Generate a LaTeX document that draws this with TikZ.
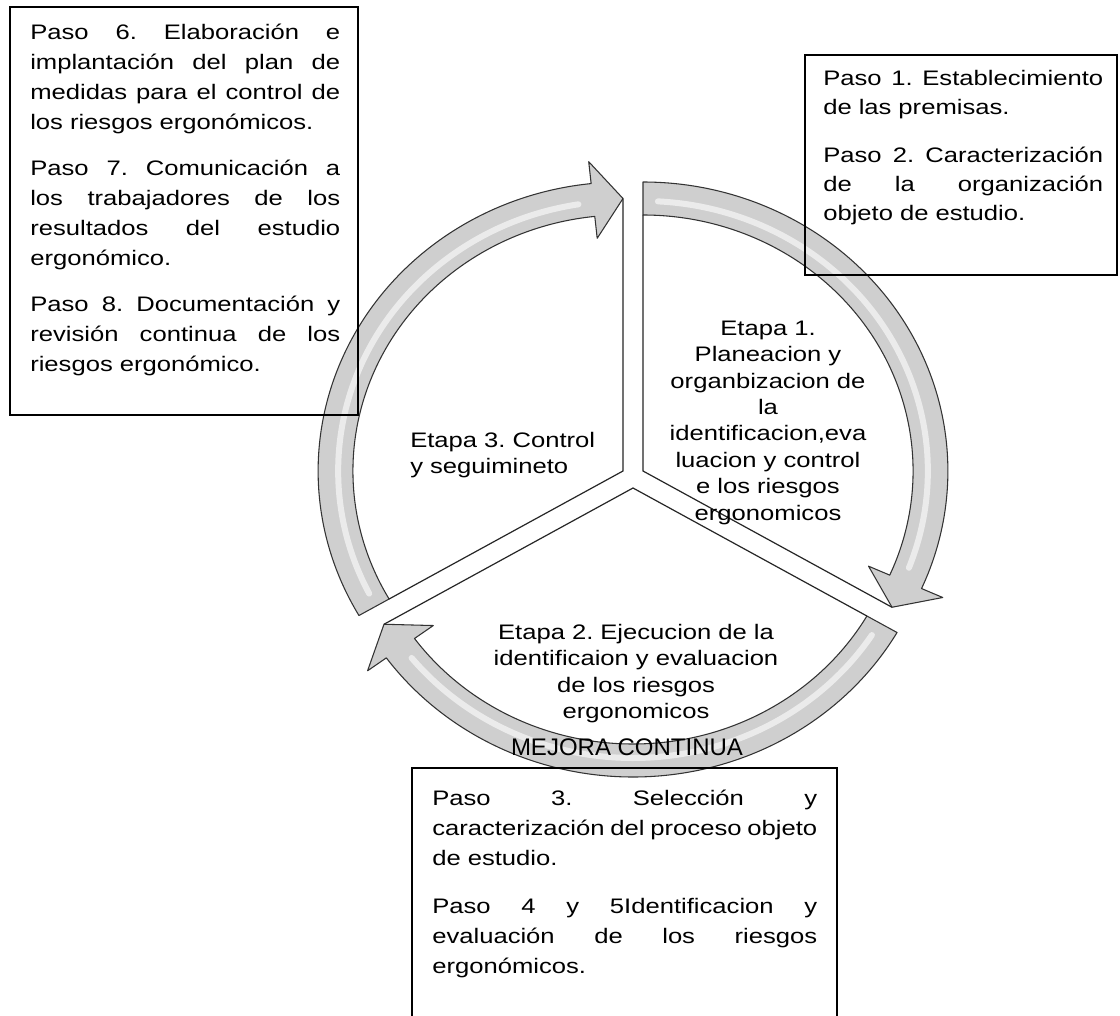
\documentclass[tikz,border=0pt]{standalone}
\usepackage{fontspec}
\setmainfont{Liberation Sans}
\newfontfamily\boxfont{Liberation Sans}[FakeStretch=1.22]
\frenchspacing
\newcommand\jline[1]{\hbox to \hsize{\spaceskip=0.2em plus 1fil\relax\xspaceskip=\spaceskip #1}}
\begin{document}
\begin{tikzpicture}[x=0.75pt,y=0.75pt,
  ringarrow/.style={draw=black!80, line width=0.8pt, fill=black!19, line join=round},
  glint/.style={draw=white, line width=4.5pt, opacity=0.6, line cap=round},
  divider/.style={draw=black!85, line width=0.9pt},
  frame/.style={draw=black, line width=1.8pt},
  boxtext/.style={anchor=north west, inner sep=0pt, align=left},
  stagetext/.style={inner sep=0pt, font=\boxfont\frenchspacing\fontsize{15.75}{19.8}\selectfont}]
\fill[white] (0,0) rectangle (1120,-1016);
\useasboundingbox (0,0) rectangle (1120,-1016);

% left arrow (Etapa 3)
\begin{scope}[shift={(623,-471)}, xscale=1.055]
  \coordinate (Lc) at (0,0);
  \coordinate (Ltip) at (90:272.5);
  \coordinate (Ltail) at (210:256);
  \draw[ringarrow] (210:289) arc[start angle=210, end angle=96, radius=289]
    -- (96:311) -- (Ltip) -- (96:234) -- (96:256)
    arc[start angle=96, end angle=210, radius=256] -- cycle;
  \draw[glint] (207:270) arc[start angle=207, end angle=99, radius=270];
\end{scope}

% right arrow (Etapa 1)
\begin{scope}[shift={(643,-471)}, xscale=1.055]
  \coordinate (Rc) at (0,0);
  \coordinate (Rtip) at (-30:272.5);
  \coordinate (Rtail) at (90:256);
  \draw[ringarrow] (90:289) arc[start angle=90, end angle=-24, radius=289]
    -- (-24:311) -- (Rtip) -- (-24:234) -- (-24:256)
    arc[start angle=-24, end angle=90, radius=256] -- cycle;
  \draw[glint] (87:270) arc[start angle=87, end angle=-21, radius=270];
\end{scope}

% bottom arrow (Etapa 2)
\begin{scope}[shift={(633,-488)}, xscale=1.055]
  \coordinate (Bc) at (0,0);
  \coordinate (Btip) at (-150:272.5);
  \coordinate (Btail) at (-30:256);
  \draw[ringarrow] (-30:289) arc[start angle=-30, end angle=-144, radius=289]
    -- (-144:311) -- (Btip) -- (-144:234) -- (-144:256)
    arc[start angle=-144, end angle=-30, radius=256] -- cycle;
  \draw[glint] (-33:270) arc[start angle=-33, end angle=-141, radius=270];
\end{scope}

% sector dividers
\draw[divider] (Ltip) -- (Lc) -- (Ltail);
\draw[divider] (Rtail) -- (Rc) -- (Rtip);
\draw[divider] (Btail) -- (Bc) -- (Btip);

% stage texts
\node[stagetext, anchor=north, text width=160pt, align=center] (e1) at (768,-316.5)
  {\strut Etapa 1.\\ \strut Planeacion y\\ \strut organbizacion de\\ \strut la\\
   \strut identificacion,eva\\ \strut luacion y control\\ \strut e los riesgos\\ \strut ergonomicos};
\node[stagetext, anchor=north, text width=225pt, align=center] (e2) at (636,-620.5)
  {\strut Etapa 2. Ejecucion de la\\ \strut identificaion y evaluacion\\ \strut de los riesgos\\ \strut ergonomicos};
\node[stagetext, anchor=north west, text width=150pt, align=left] (e3) at (410,-428.5)
  {\strut Etapa 3. Control\\ \strut y seguimineto};

\node[inner sep=0pt, anchor=base, font=\fontsize{18}{20}\selectfont] (mejora) at (627,-755) {MEJORA CONTINUA};

% boxes
\draw[frame] (10,-7) rectangle (358,-415);
\draw[frame] (805,-55) rectangle (1117,-275);
\draw[frame] (412,-1016) -- (412,-768) -- (837,-768) -- (837,-1016);

\node[boxtext, text width=232.5pt, font=\boxfont\fontsize{15.75}{22.5}\selectfont] (t678) at (30,-18)
  {\strut\jline{Paso 6. Elaboración e}\\
   \strut\jline{implantación del plan de}\\
   \strut\jline{medidas para el control de}\\
   \strut los riesgos ergonómicos.\\[12pt]
   \strut\jline{Paso 7. Comunicación a}\\
   \strut\jline{los trabajadores de los}\\
   \strut\jline{resultados del estudio}\\
   \strut ergonómico.\\[12pt]
   \strut\jline{Paso 8. Documentación y}\\
   \strut\jline{revisión continua de los}\\
   \strut riesgos ergonómico.};

\node[boxtext, text width=210pt, font=\boxfont\fontsize{15.75}{21.75}\selectfont] (t12) at (823,-64.7)
  {\strut\jline{Paso 1. Establecimiento}\\
   \strut de las premisas.\\[14.25pt]
   \strut\jline{Paso 2. Caracterización}\\
   \strut\jline{de la organización}\\
   \strut objeto de estudio.};

\node[boxtext, text width=288.75pt, font=\boxfont\fontsize{15.75}{22.5}\selectfont] (t345) at (432,-784)
  {\strut\jline{Paso 3. Selección y}\\
   \strut\jline{caracterización del proceso objeto}\\
   \strut de estudio.\\[13.5pt]
   \strut\jline{Paso 4 y 5Identificacion y}\\
   \strut\jline{evaluación de los riesgos}\\
   \strut ergonómicos.};
\end{tikzpicture}
\end{document}
